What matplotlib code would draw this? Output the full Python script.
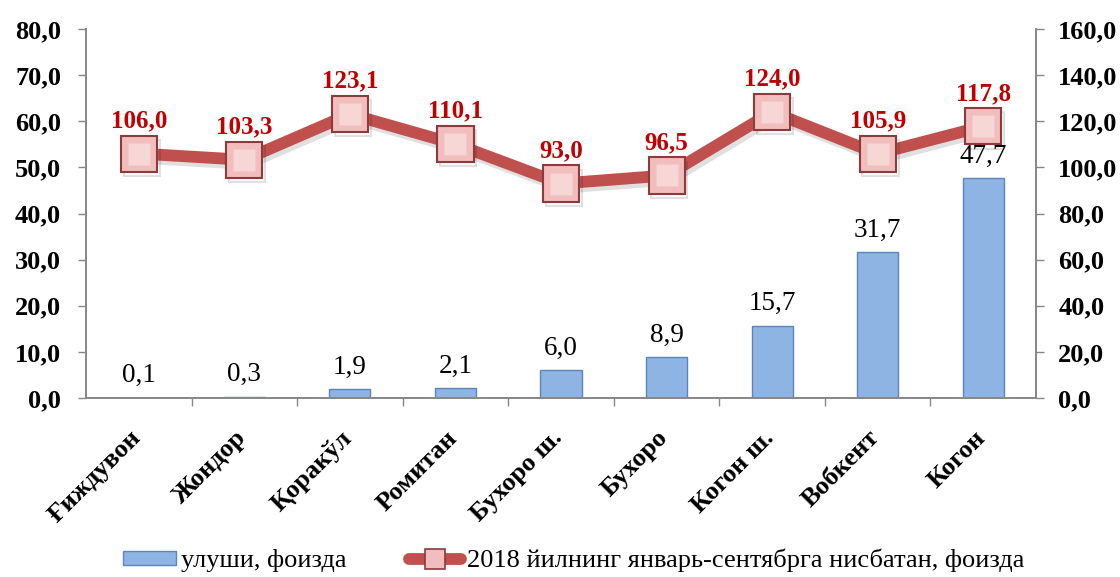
import numpy as np
import matplotlib.pyplot as plt
import matplotlib.patheffects as pe
import matplotlib.transforms as mtransforms
from matplotlib.lines import Line2D
from matplotlib.patches import Patch
from matplotlib.ticker import FixedLocator

plt.rcParams['font.family'] = ['Liberation Serif', 'DejaVu Serif']

districts = ['Ғиждувон', 'Жондор', 'Қоракўл', 'Ромитан', 'Бухоро ш.',
             'Бухоро', 'Когон ш.', 'Вобкент', 'Когон']
share = [0.1, 0.3, 1.9, 2.1, 6.0, 8.9, 15.7, 31.7, 47.7]
growth = [106.0, 103.3, 123.1, 110.1, 93.0, 96.5, 124.0, 105.9, 117.8]

share_name = 'улуши, фоизда'
growth_name = '2018 йилнинг январь-сентябрга нисбатан, фоизда'

def fmt(v):
    return f'{v:.1f}'.replace('.', ',')

AXIS_GRAY = '#868686'
BAR_FACE, BAR_EDGE = '#8EB4E3', '#5A86BC'
LINE_RED = '#C0504D'
MARK_FACE, MARK_EDGE = '#F2BDBD', '#8C3A3A'

fig = plt.figure(figsize=(11.2, 5.77), dpi=100)
ax = fig.add_axes([0.0768, 0.3102, 0.8482, 0.6395])
ax2 = ax.twinx()

x = np.arange(len(districts))

bars = ax.bar(x, share, width=0.39, color=BAR_FACE, edgecolor=BAR_EDGE,
              linewidth=1.0, zorder=2)
for b, v in zip(bars, share):
    ax.annotate(fmt(v), (b.get_x() + b.get_width() / 2, v),
                xytext=(0, 11), textcoords='offset points',
                ha='center', va='baseline', fontsize=19.5, color='black')

ax2.plot(x, growth, color=LINE_RED, linewidth=8.5, solid_capstyle='round',
         marker='s', markersize=26, markerfacecolor=MARK_FACE,
         markeredgecolor=MARK_EDGE, markeredgewidth=1.5, zorder=3,
         path_effects=[pe.SimpleLineShadow(offset=(2, -3), alpha=0.12),
                       pe.Normal()])
# lighter inner face to hint the bevel
ax2.plot(x, growth, linestyle='none', marker='s', markersize=16,
         markerfacecolor='#F7D6D6', markeredgecolor='none', zorder=4)
for xi, v in zip(x, growth):
    ax2.annotate(fmt(v), (xi, v), xytext=(0, 19), textcoords='offset points',
                 ha='center', va='baseline', fontsize=18, fontweight='bold',
                 color='#C00000', zorder=5)

ax.set_xlim(-0.5, len(districts) - 0.5)
ax.set_ylim(0, 80)
ax2.set_ylim(0, 160)
ax.set_yticks(np.arange(0, 81, 10))
ax2.set_yticks(np.arange(0, 161, 20))
ax.set_yticklabels([fmt(v) for v in np.arange(0, 81, 10)],
                   fontsize=19, fontweight='bold')
ax2.set_yticklabels([fmt(v) for v in np.arange(0, 161, 20)],
                    fontsize=19, fontweight='bold')

ax.set_xticks(x)
ax.set_xticklabels(districts, rotation=45, ha='right', va='top',
                   rotation_mode='anchor', fontsize=19, fontweight='bold')
ax.tick_params(axis='x', length=0, pad=16)
shift = mtransforms.ScaledTranslation(-10 / 100, -6 / 100, fig.dpi_scale_trans)
for lab in ax.get_xticklabels():
    lab.set_transform(lab.get_transform() + shift)
ax.xaxis.set_minor_locator(FixedLocator(np.arange(0.5, len(districts) - 1, 1)))
ax.tick_params(axis='x', which='minor', length=6, color=AXIS_GRAY, width=1)

ax.tick_params(axis='y', length=6, color=AXIS_GRAY, width=1, pad=12)
ax2.tick_params(axis='y', length=6, color=AXIS_GRAY, width=1, pad=10)

for a in (ax, ax2):
    a.spines['top'].set_visible(False)
    for s in ('left', 'right', 'bottom'):
        a.spines[s].set_color(AXIS_GRAY)
        a.spines[s].set_linewidth(1.2)

handles = [Patch(facecolor=BAR_FACE, edgecolor=BAR_EDGE),
           Line2D([], [], color=LINE_RED, linewidth=8.5, solid_capstyle='round',
                  marker='s', markersize=14, markerfacecolor=MARK_FACE,
                  markeredgecolor=MARK_EDGE, markeredgewidth=1.2)]
fig.legend(handles, [share_name, growth_name], loc='lower center',
           bbox_to_anchor=(0.512, -0.033), ncol=2, frameon=False,
           fontsize=19, handlelength=2.0, handleheight=0.45,
           handletextpad=0.2, columnspacing=2.35)

fig.savefig('out.png', dpi=100, facecolor='white')
